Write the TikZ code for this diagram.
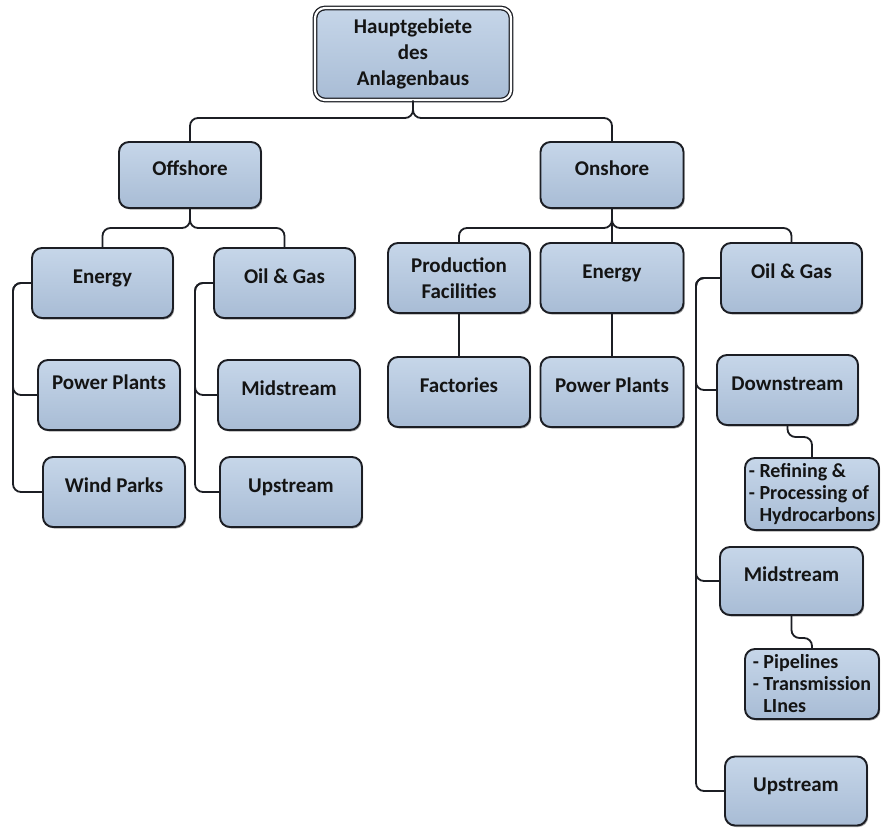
\documentclass[tikz,border=0pt]{standalone}
\usepackage{fontspec}
\setmainfont{Carlito}
\usetikzlibrary{shadows}
\definecolor{boxtop}{RGB}{198,214,233}
\definecolor{boxbot}{RGB}{168,188,213}
\definecolor{edge}{RGB}{28,30,36}
\begin{document}
\begin{tikzpicture}[x=1pt,y=-1pt,
  box/.style={draw=edge, line width=1.9pt, rounded corners=10pt,
    top color=boxtop, bottom color=boxbot, inner sep=0pt, align=center,
    text=black!92, font=\fontsize{21}{26}\selectfont\bfseries,
    drop shadow={shadow xshift=1.2pt, shadow yshift=-1.5pt, opacity=0.35, fill=black}},
  sz/.style 2 args={minimum width=#1pt, minimum height=#2pt},
  one/.style={text height=14pt, text depth=14pt},
  small/.style={align=left, font=\fontsize{20}{22}\selectfont\bfseries},
  conn/.style={draw=edge, line width=1.8pt, rounded corners=8pt}]
\useasboundingbox[fill=white] (0,0) rectangle (881,828);

% nodes
\node[box, sz={196}{92}, double=white, double distance=2.2pt, line width=1.3pt] (root) at (413,54) {Hauptgebiete\\des\\Anlagenbaus};
\node[box, sz={142}{66}, one] (off) at (190,175) {Offshore};
\node[box, sz={143}{66}, one] (on) at (612,175) {Onshore};

\node[box, sz={141}{70}, one] (eoff) at (102.5,283) {Energy};
\node[box, sz={141}{70}, one] (ogoff) at (284.5,283) {Oil \& Gas};
\node[box, sz={142}{70}, text height=14pt, text depth=26pt] (ppoff) at (109,395) {Power Plants};
\node[box, sz={142}{70}, one] (wind) at (114,492) {Wind Parks};
\node[box, sz={142}{70}, one] (msoff) at (289,395) {Midstream};
\node[box, sz={142}{70}, one] (usoff) at (291,492) {Upstream};

\node[box, sz={142}{70}] (prod) at (459,278) {Production\\Facilities};
\node[box, sz={143}{70}, one] (eon) at (612,278) {Energy};
\node[box, sz={141}{70}, one] (ogon) at (791.5,278) {Oil \& Gas};
\node[box, sz={142}{70}, one] (fact) at (459,392) {Factories};
\node[box, sz={143}{70}, one] (ppon) at (612,392) {Power Plants};

\node[box, sz={141}{70}, one] (ds) at (787.5,390) {Downstream};
\node[box, sz={134}{72}, small] (ref) at (812,494) {- Refining \&\\- Processing of\\\phantom{- }Hydrocarbons};
\node[box, sz={143}{68}, one] (mson) at (791.5,581) {Midstream};
\node[box, sz={134}{70}, small] (pipe) at (812,684) {- Pipelines\\- Transmission\\\phantom{- }LInes};
\node[box, sz={142}{69}, one] (uson) at (796,791) {Upstream};

% connectors
\draw[conn] (root.south) -- (413,118) -| (off.north);
\draw[conn] (root.south) -- (413,118) -| (on.north);

\draw[conn] (off.south) -- (190,228) -| (eoff.north);
\draw[conn] (off.south) -- (190,228) -| (ogoff.north);

\draw[conn] (on.south) -- (612,228) -| (prod.north);
\draw[conn] (on.south) -- (612,228) -| (ogon.north);
\draw[conn] (on.south) -- (eon.north);

\draw[conn] (eoff.west) -- (13,283) |- (ppoff.west);
\draw[conn] (eoff.west) -- (13,283) |- (wind.west);
\draw[conn] (ogoff.west) -- (195,283) |- (msoff.west);
\draw[conn] (ogoff.west) -- (195,283) |- (usoff.west);

\draw[conn] (prod.south) -- (fact.north);
\draw[conn] (eon.south) -- (ppon.north);

\draw[conn] (ogon.west) -- (696,278) |- (ds.west);
\draw[conn] (ogon.west) -- (696,278) |- (mson.west);
\draw[conn] (ogon.west) -- (696,278) |- (uson.west);

\draw[conn] (ds.south) -- (787.5,437) -| (ref.north);
\draw[conn] (mson.south) -- (791.5,638) -| (pipe.north);
\end{tikzpicture}
\end{document}
